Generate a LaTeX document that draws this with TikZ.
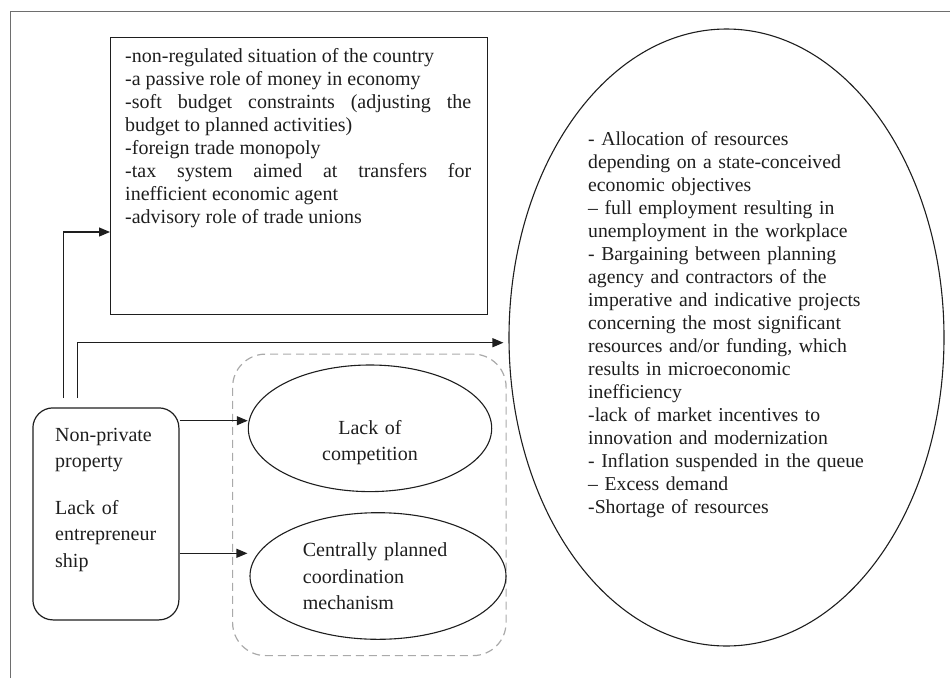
\documentclass[tikz,border=0pt]{standalone}
\usepackage{fontspec}
\setmainfont{Liberation Serif}
\usetikzlibrary{shapes.geometric,arrows.meta,calc}
\setlength{\parindent}{0pt}
\hyphenpenalty=10000
\exhyphenpenalty=10000
\definecolor{inkc}{HTML}{1E1E1E}
\definecolor{framec}{HTML}{6E6E6E}
\definecolor{dashc}{HTML}{AAAAAA}
\tikzset{
  txt/.style={inner sep=0pt, text=inkc, font=\fontsize{20pt}{23pt}\selectfont},
  boxline/.style={draw=inkc, line width=1.3pt},
  ell/.style={ellipse, draw=inkc, line width=1.1pt, inner sep=0pt},
  arr/.style={draw=inkc, line width=1.2pt, -{Triangle[length=11pt,width=9pt]}},
  grpbox/.style={draw=dashc, line width=1.2pt, dash pattern=on 8pt off 5pt, rounded corners=33pt, inner sep=0pt}
}
\begin{document}
\begin{tikzpicture}[x=1pt,y=-1pt]
\useasboundingbox (0,0) rectangle (950,678);
% partial outer frame
\draw[framec, line width=1pt] (10,678) -- (10,11) -- (950,11);

% top rectangle
\node[boxline, minimum width=377pt, minimum height=276.5pt, inner sep=0pt, anchor=north west] (tb) at (110,37) {};
\node[txt, text width=346pt, align=justify, anchor=base west] (tbt) at (125,62.7)
{-non-regulated situation of the country\par
-a passive role of money in economy\par
-soft budget constraints (adjusting the\linebreak budget to planned activities)\par
-foreign trade monopoly\par
-tax system aimed at transfers for\linebreak inefficient economic agent\par
-advisory role of trade unions\par};

% big ellipse
\node[ell, minimum width=435pt, minimum height=617pt] (el) at (726.5,337.5) {};
\node[txt, font=\fontsize{19.7pt}{23pt}\selectfont, text width=300pt, align=left, anchor=base west] (elt) at (588,145.7)
{- Allocation of resources\\
depending on a state-conceived\\
economic objectives\\
\textendash{} full employment resulting in\\
unemployment in the workplace\\
- Bargaining between planning\\
agency and contractors of the\\
imperative and indicative projects\\
concerning the most significant\\
resources and/or funding, which\\
results in microeconomic\\
inefficiency\\
-lack of market incentives to\\
innovation and modernization\\
- Inflation suspended in the queue\\
\textendash{} Excess demand\\
-Shortage of resources};

% dashed group
\node[grpbox, minimum width=273.5pt, minimum height=301.5pt, anchor=north west] (grp) at (232,353.5) {};

% ellipse 1
\node[txt, font=\fontsize{20pt}{25.8pt}\selectfont, text width=200pt, align=center, anchor=base] (e1t) at (370,434.3)
{Lack of\\competition};
\node[ell, minimum width=243.4pt, minimum height=126.6pt] (e1) at (370,428.3) {};

% ellipse 2
\node[ell, minimum width=256pt, minimum height=126.6pt] (e2) at (378,576) {};
\node[txt, font=\fontsize{20pt}{26.3pt}\selectfont, text width=190pt, align=left, anchor=base west] (e2t) at (302.7,556.7)
{Centrally planned\\coordination\\mechanism};

% left rounded box
\node[boxline, line width=1.2pt, rounded corners=20pt, minimum width=146pt, minimum height=212pt, inner sep=0pt, anchor=north west] (lb) at (32.3,407.3) {};
\node[txt, font=\fontsize{20pt}{26.6pt}\selectfont, text width=120pt, align=left, anchor=base west] (lbt) at (55,441)
{Non-private\\property\\[19.8pt]Lack of\\entrepreneur\\ship};

% connectors
\coordinate (c1) at ($(lb.north west)+(31,-9.3)$);
\coordinate (c2) at ($(lb.north west)+(45.2,-9.3)$);
\draw[arr] (c1) |- ($(tb.north west)+(0,195)$);
\draw[arr] (c2) |- ($(el.west)+(-5,5.2)$);
\draw[arr] ($(lb.north east)+(0,13.4)$) -- ($(e1.west)+(0,-7.6)$);
\draw[arr] ($(lb.north east)+(0,146)$) -- ($(e2.west)+(-2,-22.7)$);
\end{tikzpicture}
\end{document}
